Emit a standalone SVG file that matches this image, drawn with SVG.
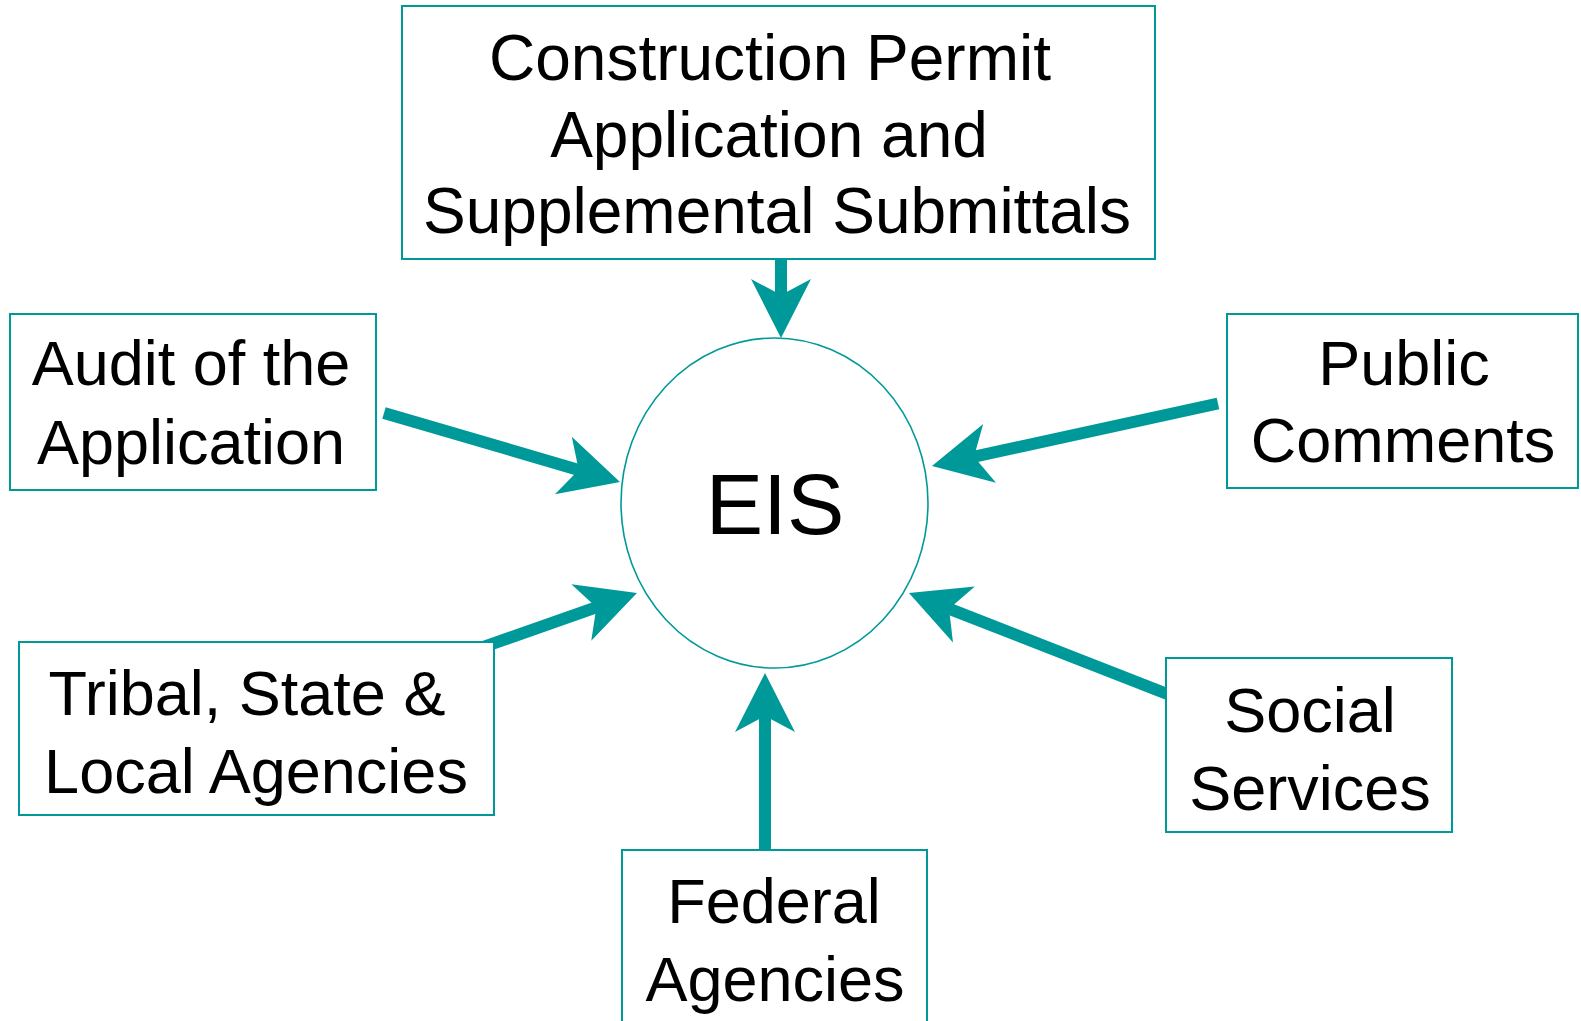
<svg xmlns="http://www.w3.org/2000/svg" width="1581" height="1021" viewBox="0 0 1581 1021">
<style>
.box{fill:#ffffff;stroke:#009999;stroke-width:2}
.lbl{font-family:"Liberation Sans",Arial,sans-serif;font-size:63px;fill:#000000;text-anchor:middle}
.conn{stroke:#009999;stroke-width:12;fill:none;marker-end:url(#ah)}
</style>
<defs>
<marker id="ah" markerUnits="userSpaceOnUse" markerWidth="60" markerHeight="60" viewBox="0 0 60 60" refX="39" refY="30" orient="auto" overflow="visible">
<path d="M0,0 L59,30 L0,60 L16,30 Z" fill="#009999"/>
</marker>
</defs>
<rect width="1581" height="1021" fill="#ffffff"/>
<g id="connectors">
<line class="conn" x1="781" y1="259" x2="781" y2="318"/>
<line class="conn" x1="384" y1="413" x2="600.8" y2="476.4"/>
<line class="conn" x1="1218" y1="403.5" x2="951.5" y2="461.7"/>
<line class="conn" x1="470" y1="651.7" x2="618.1" y2="599.6"/>
<line class="conn" x1="1180" y1="699" x2="927.6" y2="600.3"/>
<line class="conn" x1="765" y1="852" x2="765" y2="693"/>
</g>
<g id="eis">
<ellipse cx="774.5" cy="503" rx="153.5" ry="165" fill="none" stroke="#009999" stroke-width="1.6"/>
<text x="775" y="534" font-family="'Liberation Sans',Arial,sans-serif" font-size="86" text-anchor="middle">EIS</text>
</g>
<g id="construction">
<rect class="box" x="402" y="6" width="753" height="253"/>
<text class="lbl" style="font-size:64px" x="770" y="80">Construction Permit</text>
<text class="lbl" style="font-size:64px" x="769" y="157">Application and</text>
<text class="lbl" style="font-size:64px" x="777" y="233">Supplemental Submittals</text>
</g>
<g id="audit">
<rect class="box" x="10" y="314" width="366" height="176"/>
<text class="lbl" x="191" y="385">Audit of the</text>
<text class="lbl" x="191" y="464">Application</text>
</g>
<g id="public">
<rect class="box" x="1227" y="314" width="351" height="174"/>
<text class="lbl" x="1404" y="385">Public</text>
<text class="lbl" x="1403" y="462">Comments</text>
</g>
<g id="tribal">
<rect class="box" x="19" y="642" width="475" height="173"/>
<text class="lbl" x="247" y="715">Tribal, State &amp;</text>
<text class="lbl" x="256" y="793">Local Agencies</text>
</g>
<g id="social">
<rect class="box" x="1166" y="658" width="286" height="174"/>
<text class="lbl" x="1310" y="732">Social</text>
<text class="lbl" x="1310" y="810">Services</text>
</g>
<g id="federal">
<rect class="box" x="622" y="850" width="305" height="190"/>
<text class="lbl" x="774" y="923">Federal</text>
<text class="lbl" x="775" y="1001">Agencies</text>
</g>
</svg>
